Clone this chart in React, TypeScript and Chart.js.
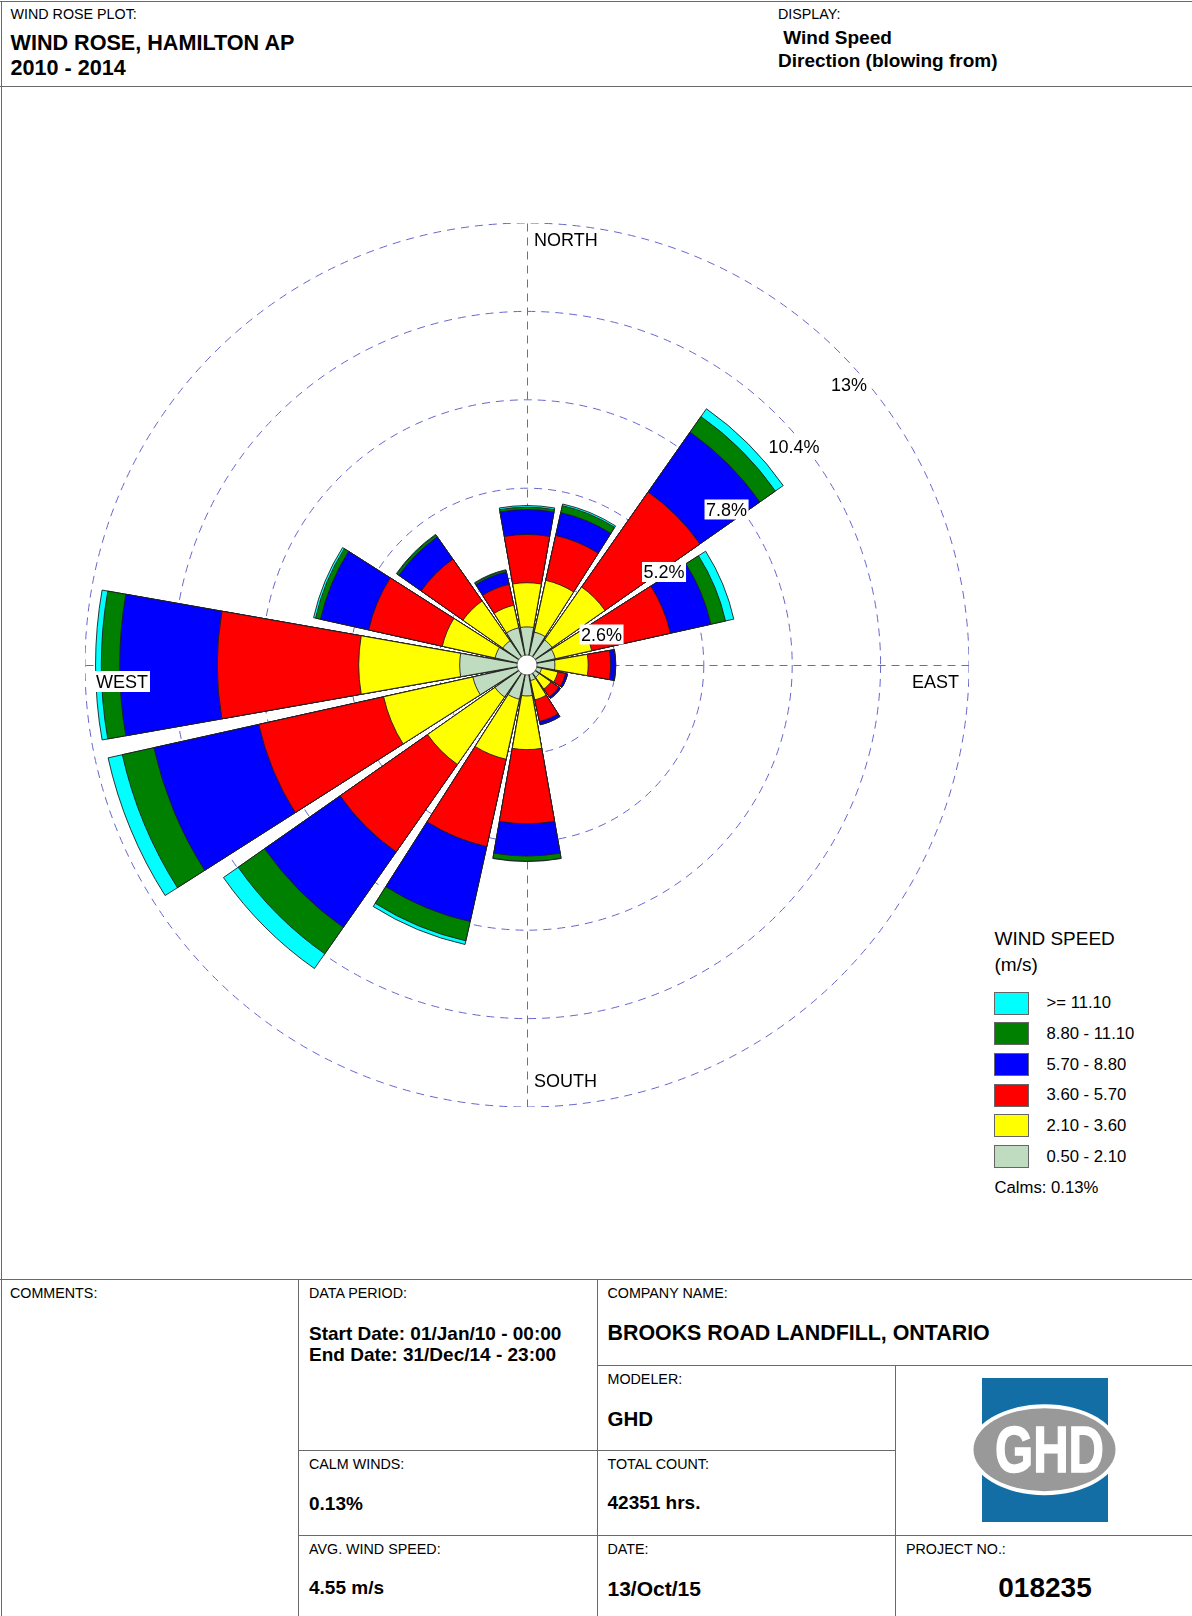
import React, { useEffect, useRef } from 'react';
import { Chart, registerables } from 'chart.js';

Chart.register(...registerables);

// ---------------- DATA ----------------
const DIRECTIONS = ['N', 'NNE', 'NE', 'ENE', 'E', 'ESE', 'SE', 'SSE', 'S', 'SSW', 'SW', 'WSW', 'W', 'WNW', 'NW', 'NNW'];
const SPEED_BINS = ['0.50 - 2.10', '2.10 - 3.60', '3.60 - 5.70', '5.70 - 8.80', '8.80 - 11.10', '>= 11.10'];
const BIN_COLORS = ['#c0dcc0', '#ffff00', '#ff0000', '#0000ff', '#008000', '#00ffff'];

// frequency of occurrence (%) per direction (blowing from), one array per speed class
const FREQ_050_210 = [1.12, 0.99, 0.90, 0.85, 0.82, 0.44, 0.44, 0.47, 0.91, 1.03, 1.15, 1.63, 1.98, 0.96, 0.87, 1.12];
const FREQ_210_360 = [1.30, 1.56, 1.90, 1.10, 0.98, 0.49, 0.42, 0.58, 1.58, 1.81, 2.42, 2.69, 2.97, 1.59, 1.43, 0.68];
const FREQ_360_570 = [1.42, 1.35, 3.41, 2.37, 0.66, 0.23, 0.28, 0.65, 2.18, 2.63, 3.14, 3.76, 4.16, 2.22, 1.50, 0.63];
const FREQ_570_880 = [0.73, 0.69, 2.15, 1.22, 0.14, 0.06, 0.06, 0.09, 0.95, 2.26, 2.71, 3.16, 2.87, 1.45, 0.80, 0.37];
const FREQ_880_1110 = [0.07, 0.21, 0.56, 0.44, 0.01, 0.00, 0.00, 0.01, 0.15, 0.58, 0.95, 0.95, 0.54, 0.15, 0.07, 0.05];
const FREQ_1110_UP = [0.05, 0.05, 0.28, 0.25, 0.00, 0.00, 0.00, 0.00, 0.01, 0.11, 0.53, 0.43, 0.17, 0.06, 0.02, 0.02];

const RING_STEP = 2.6;
const RING_MAX = 13;
const CALMS = '0.13%';

const FONT = '"Liberation Sans", Arial, Helvetica, sans-serif';
const GRID_COLOR = '#6666cc';
const LINE_COLOR = '#6a6a6a';

const PETAL_DEG = 20;
const GAP_DEG = 2.5;

const BINS = [FREQ_050_210, FREQ_210_360, FREQ_360_570, FREQ_570_880, FREQ_880_1110, FREQ_1110_UP];

function buildDatasets() {
  return BINS.map((_, j) => {
    const data: number[] = [];
    DIRECTIONS.forEach((_, i) => {
      let cum = 0;
      for (let k = 0; k <= j; k++) cum += BINS[k][i];
      data.push(cum);
      data.push(0); // gap between petals
    });
    return {
      label: SPEED_BINS[j],
      data,
      backgroundColor: (c: any) => (c.dataIndex % 2 ? 'rgba(0,0,0,0)' : BIN_COLORS[j]),
      borderColor: '#1e1e1e',
      borderWidth: (c: any) => (c.dataIndex % 2 ? 0 : 0.9),
      borderJoinStyle: 'miter',
      angle: (c: any) => (c.dataIndex % 2 ? GAP_DEG : PETAL_DEG),
    };
  });
}

const roseDecor = {
  id: 'roseDecor',
  beforeDatasetsDraw(chart: any) {
    const s = chart.scales.r;
    const ctx = chart.ctx;
    const R = s.getDistanceFromCenterForValue(s.max);
    const cx = Math.round(s.xCenter) + 0.5;
    const cy = Math.round(s.yCenter) + 0.5;
    ctx.save();
    ctx.strokeStyle = GRID_COLOR;
    ctx.lineWidth = 1;
    ctx.setLineDash([8, 6]);
    for (let k = 0; k < 4; k++) {
      const a = (k * Math.PI) / 2;
      ctx.beginPath();
      ctx.moveTo(cx, cy);
      ctx.lineTo(cx + R * Math.sin(a), cy - R * Math.cos(a));
      ctx.stroke();
    }
    ctx.restore();
  },
  afterDatasetsDraw(chart: any) {
    const s = chart.scales.r;
    const ctx = chart.ctx;
    const cx = s.xCenter;
    const cy = s.yCenter;
    const R = s.getDistanceFromCenterForValue(s.max);
    ctx.save();
    // ring labels along 45 degrees
    const rf = 18;
    ctx.font = `${rf}px ${FONT}`;
    ctx.textBaseline = 'alphabetic';
    s.ticks.forEach((t: any) => {
      if (t.value <= 0) return;
      const r = s.getDistanceFromCenterForValue(t.value);
      const px = cx + r * Math.SQRT1_2;
      const py = cy - r * Math.SQRT1_2;
      const text = `${t.value}%`;
      const tw = ctx.measureText(text).width;
      const mid = py + 32;
      ctx.fillStyle = '#fff';
      ctx.fillRect(px - 10, mid - 10, tw + 3, 20);
      ctx.fillStyle = '#000';
      ctx.fillText(text, px - 8.5, mid + 0.358 * rf);
    });
    // compass labels
    const cf = 18;
    ctx.font = `${cf}px ${FONT}`;
    const lab = (text: string, left: number, mid: number) => {
      const tw = ctx.measureText(text).width;
      ctx.fillStyle = '#fff';
      ctx.fillRect(left - 2, mid - 10.5, tw + 4, 21);
      ctx.fillStyle = '#000';
      ctx.fillText(text, left, mid + 0.358 * cf);
    };
    lab('NORTH', cx + 7, cy - R + 16.5);
    lab('SOUTH', cx + 7, cy + R - 26);
    const ew = ctx.measureText('EAST').width;
    lab('EAST', cx + R - 10 - ew, cy + 16.5);
    lab('WEST', cx - R + 11, cy + 16.5);
    // centre hole
    ctx.beginPath();
    ctx.arc(cx, cy, 10, 0, Math.PI * 2);
    ctx.fillStyle = '#fff';
    ctx.fill();
    ctx.lineWidth = 0.8;
    ctx.strokeStyle = '#555';
    ctx.stroke();
    ctx.restore();
  },
};

function WindRose() {
  const ref = useRef<HTMLCanvasElement | null>(null);
  useEffect(() => {
    if (!ref.current) return;
    const chart = new Chart(ref.current, {
      type: 'polarArea',
      data: {
        labels: DIRECTIONS.flatMap((d) => [d, '']),
        datasets: buildDatasets() as any,
      },
      options: {
        responsive: false,
        animation: false,
        devicePixelRatio: 1,
        events: [],
        layout: { padding: 0 },
        plugins: { legend: { display: false }, tooltip: { enabled: false }, title: { display: false } },
        scales: {
          r: {
            min: 0,
            max: RING_MAX,
            startAngle: -PETAL_DEG / 2,
            ticks: { display: false, stepSize: RING_STEP },
            grid: { circular: true, color: GRID_COLOR, lineWidth: 1 },
            border: { dash: [8, 6] },
            angleLines: { display: false },
            pointLabels: { display: false },
          },
        },
      } as any,
      plugins: [roseDecor],
    });
    return () => chart.destroy();
  }, []);
  return (
    <canvas
      ref={ref}
      width={884}
      height={884}
      style={{ position: 'absolute', left: 85, top: 223, width: 884, height: 884 }}
    />
  );
}

function T(props: { x: number; cy: number; size: number; bold?: boolean; center?: boolean; children: any }) {
  const { x, cy, size, bold, center, children } = props;
  const style: React.CSSProperties = {
    position: 'absolute',
    top: cy - size * 0.59,
    left: center ? x - 200 : x,
    width: center ? 400 : undefined,
    textAlign: center ? 'center' : 'left',
    fontSize: size,
    lineHeight: `${size * 1.2}px`,
    fontWeight: bold ? 700 : 400,
    whiteSpace: 'pre',
    color: '#000',
  };
  return <div style={style}>{children}</div>;
}

function H(props: { x1: number; x2: number; y: number }) {
  return <div style={{ position: 'absolute', left: props.x1, top: props.y, width: props.x2 - props.x1, height: 1, background: LINE_COLOR }} />;
}
function V(props: { x: number; y1: number; y2: number }) {
  return <div style={{ position: 'absolute', left: props.x, top: props.y1, width: 1, height: props.y2 - props.y1, background: LINE_COLOR }} />;
}

function Logo() {
  return (
    <svg style={{ position: 'absolute', left: 960, top: 1370 }} width={170} height={160} viewBox="0 0 170 160">
      <rect x={22} y={8} width={126} height={144} fill="#126ea5" />
      <ellipse cx={84.5} cy={79.7} rx={75} ry={45.5} fill="#ffffff" />
      <ellipse cx={84.5} cy={79.7} rx={71} ry={41.5} fill="#999999" />
      <text
        x={35}
        y={102}
        fill="#ffffff"
        fontFamily={FONT}
        fontWeight={700}
        fontSize={64}
        textLength={109}
        lengthAdjust="spacingAndGlyphs"
        stroke="#ffffff"
        strokeWidth={1.5}
      >
        GHD
      </text>
    </svg>
  );
}

function Legend() {
  const items = SPEED_BINS.map((b, i) => ({ label: b, color: BIN_COLORS[i] })).reverse();
  const y0 = 1003;
  const step = 30.7;
  return (
    <>
      <T x={994.5} cy={939.5} size={19}>WIND SPEED</T>
      <T x={994.5} cy={965} size={19}>(m/s)</T>
      {items.map((it, i) => (
        <React.Fragment key={it.label}>
          <div
            style={{
              position: 'absolute',
              left: 994,
              top: y0 + i * step - 11.5,
              width: 33,
              height: 21,
              background: it.color,
              border: '1px solid #666',
            }}
          />
          <T x={1046.5} cy={y0 + i * step} size={16.7}>{it.label}</T>
        </React.Fragment>
      ))}
      <T x={994.5} cy={1187.5} size={16.7}>{`Calms: ${CALMS}`}</T>
    </>
  );
}

export default function App() {
  useEffect(() => {
    document.body.style.margin = '0';
    document.body.style.background = '#fff';
  }, []);
  return (
    <div
      style={{
        position: 'relative',
        width: 1192,
        height: 1616,
        overflow: 'hidden',
        background: '#fff',
        fontFamily: FONT,
      }}
    >
      {/* frame */}
      <H x1={0} x2={1192} y={1} />
      <V x={1} y1={1} y2={1616} />
      <H x1={0} x2={1192} y={86} />

      {/* header */}
      <T x={10.5} cy={14.5} size={14.3}>WIND ROSE PLOT:</T>
      <T x={10.5} cy={42.5} size={21.6} bold>WIND ROSE, HAMILTON AP</T>
      <T x={10.5} cy={68} size={21.6} bold>2010 - 2014</T>
      <T x={778} cy={14.5} size={14.3}>DISPLAY:</T>
      <T x={778} cy={38.5} size={19} bold>{' Wind Speed'}</T>
      <T x={778} cy={61} size={19} bold>Direction (blowing from)</T>

      <WindRose />
      <Legend />

      {/* footer grid */}
      <H x1={0} x2={1192} y={1279} />
      <V x={298} y1={1279} y2={1616} />
      <V x={597} y1={1279} y2={1616} />
      <V x={895} y1={1365} y2={1616} />
      <H x1={597} x2={1192} y={1365} />
      <H x1={298} x2={895} y={1450} />
      <H x1={298} x2={1192} y={1535} />

      <T x={10} cy={1293} size={14.3}>COMMENTS:</T>
      <T x={309} cy={1293} size={14.3}>DATA PERIOD:</T>
      <T x={309} cy={1334} size={19} bold>Start Date: 01/Jan/10 - 00:00</T>
      <T x={309} cy={1355.5} size={19} bold>End Date: 31/Dec/14 - 23:00</T>
      <T x={309} cy={1464} size={14.3}>CALM WINDS:</T>
      <T x={309} cy={1504} size={19} bold>{CALMS}</T>
      <T x={309} cy={1549} size={14.3}>AVG. WIND SPEED:</T>
      <T x={309} cy={1588} size={19} bold>4.55 m/s</T>

      <T x={607.5} cy={1293} size={14.3}>COMPANY NAME:</T>
      <T x={607.5} cy={1333.5} size={21.4} bold>BROOKS ROAD LANDFILL, ONTARIO</T>
      <T x={607.5} cy={1379} size={14.3}>MODELER:</T>
      <T x={607.5} cy={1419} size={20.5} bold>GHD</T>
      <T x={607.5} cy={1464} size={14.3}>TOTAL COUNT:</T>
      <T x={607.5} cy={1503.5} size={19} bold>42351 hrs.</T>
      <T x={607.5} cy={1549} size={14.3}>DATE:</T>
      <T x={607.5} cy={1588} size={21} bold>13/Oct/15</T>

      <T x={906} cy={1549} size={14.3}>PROJECT NO.:</T>
      <T x={1045} cy={1588} size={28} bold center>018235</T>
      <Logo />
    </div>
  );
}
